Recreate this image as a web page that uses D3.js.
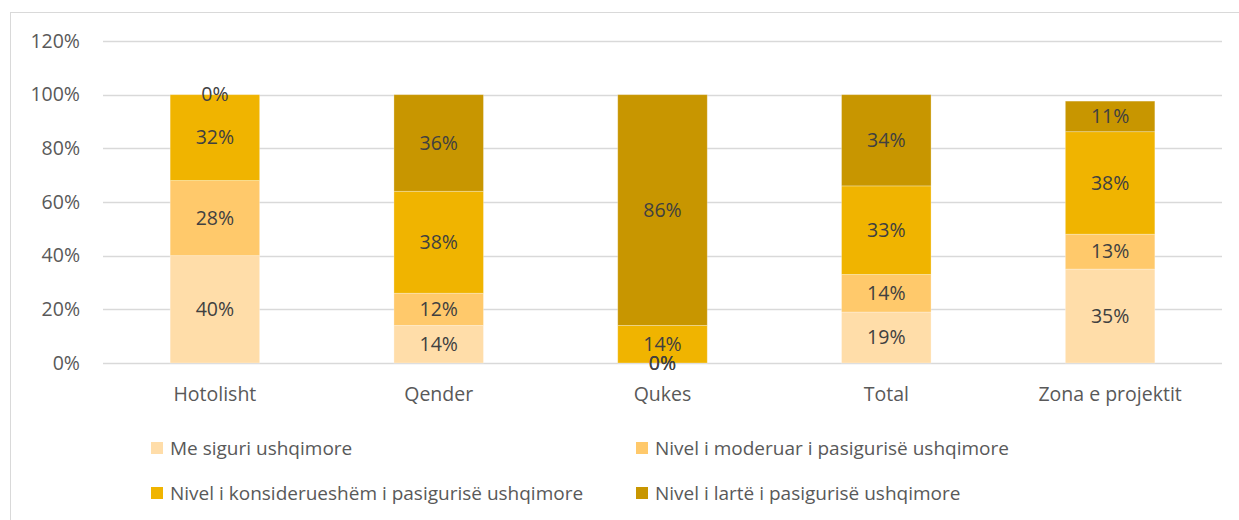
<!DOCTYPE html>
<html><head><meta charset="utf-8">
<script src="https://cdn.jsdelivr.net/npm/d3@7"></script>
<style>
html,body{margin:0;padding:0;background:#fff;}
svg{display:block;font-family:"Open Sans",sans-serif;}
</style></head>
<body>
<svg id="chart" width="1239" height="520"></svg>
<script>
const categories = ["Hotolisht", "Qender", "Qukes", "Total", "Zona e projektit"];
const seriesNames = [
  "Me siguri ushqimore",
  "Nivel i moderuar i pasigurisë ushqimore",
  "Nivel i konsiderueshëm i pasigurisë ushqimore",
  "Nivel i lartë i pasigurisë ushqimore"
];
const meSiguri      = [40, 14, 0, 19, 35];
const moderuar      = [28, 12, 0, 14, 13];
const konsiderueshem= [32, 38, 14, 33, 38.2];
const larte         = [0, 36, 86, 34, 11.4];
const yTicks = [0, 20, 40, 60, 80, 100, 120];
const colors = ["#FFDDA9", "#FFC96B", "#F0B400", "#C89600"];

const seriesValues = [meSiguri, moderuar, konsiderueshem, larte];
const svg = d3.select("#chart");
const fontFamily = '"Open Sans", sans-serif';
const fs = "19.5px";
const fsLegend = "19px";

// chart border
svg.append("rect").attr("x", 10.5).attr("y", 12.5).attr("width", 1240).attr("height", 540)
  .attr("fill", "none").attr("stroke", "#D9D9D9").attr("stroke-width", 1);

const x = d3.scaleBand().domain(categories).range([103, 1222]).paddingInner(0.6).paddingOuter(0.3);
const y = d3.scaleLinear().domain([0, 120]).range([363, 41]);

// gridlines
svg.append("g").selectAll("line").data(yTicks).join("line")
  .attr("x1", 103).attr("x2", 1222)
  .attr("y1", d => Math.round(y(d)) + 0.5).attr("y2", d => Math.round(y(d)) + 0.5)
  .attr("stroke", "#D9D9D9").attr("stroke-width", 1.3);

// y axis labels
const yAxis = d3.axisLeft(y).tickValues(yTicks).tickFormat(d => d + "%").tickSize(0).tickPadding(0);
const gy = svg.append("g").attr("transform", "translate(80,0)").call(yAxis);
gy.select(".domain").remove();
gy.selectAll("text").attr("fill", "#595959").style("font-size", fs).style("font-family", fontFamily);

// x axis labels
const xAxis = d3.axisBottom(x).tickSize(0).tickPadding(0);
const gx = svg.append("g").attr("transform", "translate(0,394)").call(xAxis);
gx.select(".domain").remove();
gx.selectAll("text").attr("fill", "#595959").style("font-size", fs).style("font-family", fontFamily).attr("y", 0).attr("dy", "0.35em");

// stacked data
const table = categories.map((c, i) => {
  const o = {cat: c};
  seriesNames.forEach((s, j) => o[s] = seriesValues[j][i]);
  return o;
});
const stack = d3.stack().keys(seriesNames)(table);

const layers = svg.append("g").selectAll("g").data(stack).join("g")
  .attr("fill", (d, i) => colors[i]);
layers.selectAll("rect").data(d => d).join("rect")
  .attr("x", d => x(d.data.cat))
  .attr("width", x.bandwidth())
  .attr("y", d => y(d[1]))
  .attr("height", d => y(d[0]) - y(d[1]))
  .attr("stroke", "rgba(255,255,255,0.35)").attr("stroke-width", 0.8);

// data labels
const labelG = svg.append("g");
stack.forEach((layer, i) => {
  layer.forEach(d => {
    labelG.append("text")
      .attr("x", x(d.data.cat) + x.bandwidth() / 2)
      .attr("y", y((d[0] + d[1]) / 2))
      .attr("dy", "0.35em")
      .attr("text-anchor", "middle")
      .attr("fill", "#404040")
      .style("font-size", fs)
      .style("font-family", fontFamily)
      .text(Math.round(d[1] - d[0]) + "%");
  });
});

// legend
const legendPos = [[151, 448], [636, 448], [151, 493], [636, 493]];
const lg = svg.append("g");
seriesNames.forEach((s, i) => {
  const [lx, ly] = legendPos[i];
  lg.append("rect").attr("x", lx).attr("y", ly - 6).attr("width", 12).attr("height", 12).attr("fill", colors[i]);
  lg.append("text").attr("x", lx + 19).attr("y", ly).attr("dy", "0.35em")
    .attr("fill", "#595959").style("font-size", fsLegend).style("font-family", fontFamily).text(s);
});
</script>
</body></html>
